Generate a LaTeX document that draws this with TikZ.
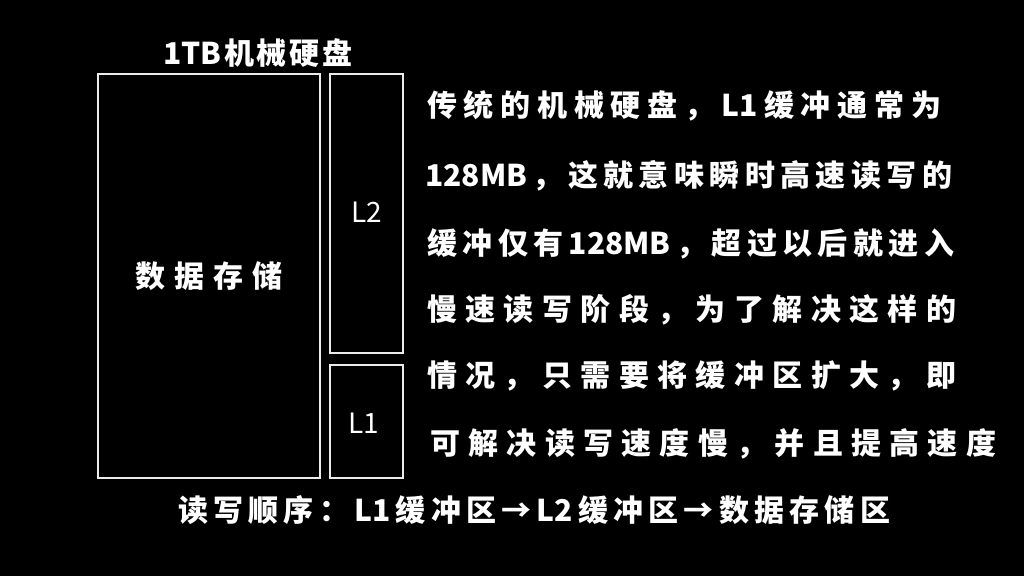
\documentclass[tikz,border=0pt]{standalone}
\usepackage{fontspec}
\setmainfont{Noto Sans CJK SC}
\newfontfamily\cjk{Noto Sans CJK SC}
\ExplSyntaxOn
\NewDocumentCommand{\spreadline}{mm}{\makebox[#1][s]{\tl_map_inline:nn{#2}{##1\hfil}\unskip}}
\ExplSyntaxOff
\begin{document}
\begin{tikzpicture}[x=1pt,y=-1pt,
  box/.style={draw=white!92!black,line width=2pt,inner sep=0pt,minimum width=#1},
  txt/.style={text=white,inner sep=0pt,font=\cjk\bfseries\fontsize{30}{30}\selectfont},
  para/.style={txt,anchor=west}]
\fill[black] (0,0) rectangle (1024,576);
\useasboundingbox (0,0) rectangle (1024,576);
\node[box=222pt,minimum height=404pt] (data) at (209,276) {};
\node[box=73pt,minimum height=279pt] (l2) at (366.5,213.5) {};
\node[box=73pt,minimum height=113pt] (l1) at (366.5,421.5) {};
\node[txt] (datalbl) at (data.center) {\spreadline{148pt}{数据存储}};
\node[txt,font=\cjk\fontsize{28}{28}\selectfont] (l2lbl) at (367,212) {L2};
\node[txt,font=\cjk\fontsize{28}{28}\selectfont] (l1lbl) at (364,423) {L1};
\node[txt,anchor=west] (title) at (163,53) {\spreadline{189pt}{{1TB}机械硬盘}};
\node[para] (p1) at (427,106) {\spreadline{514pt}{传统的机械硬盘，{L1}缓冲通常为}};
\node[para] (p2) at (425,176) {\spreadline{527pt}{{128MB}，这就意味瞬时高速读写的}};
\node[para] (p3) at (427,244) {\spreadline{527pt}{缓冲仅有{128MB}，超过以后就进入}};
\node[para] (p4) at (427,310) {\spreadline{529pt}{慢速读写阶段，为了解决这样的}};
\node[para] (p5) at (427,376) {\spreadline{529pt}{情况，只需要将缓冲区扩大，即}};
\node[para] (p6) at (430,444) {\spreadline{566pt}{可解决读写速度慢，并且提高速度}};
\node[para] (order) at (178,510) {\spreadline{712pt}{读写顺序：{L1}缓冲区→{L2}缓冲区→数据存储区}};
\end{tikzpicture}
\end{document}
